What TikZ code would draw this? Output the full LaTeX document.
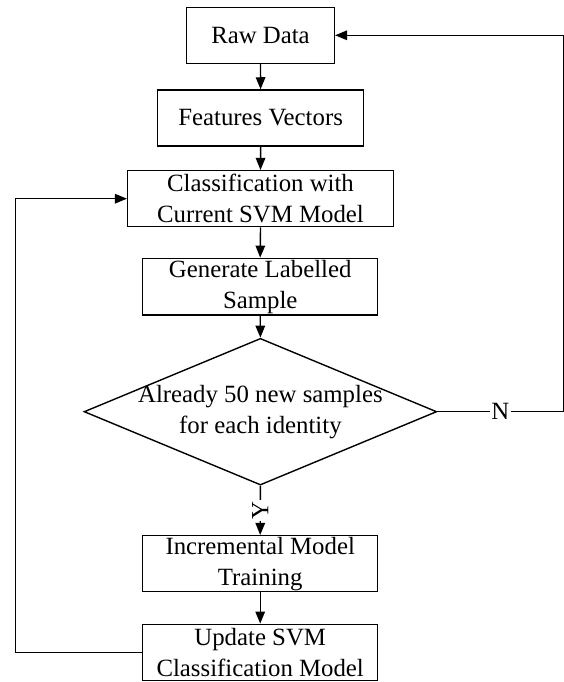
\documentclass[tikz,border=0pt]{standalone}
\usepackage{fontspec}
\setmainfont{Liberation Serif}
\usetikzlibrary{arrows.meta,shapes.geometric}

\tikzset{
  every picture/.style={x=1pt,y=-1pt},
  txt/.style={font=\fontsize{24.8}{31}\selectfont, align=center},
  procbox/.style={draw, rectangle, line width=1.5pt, inner sep=0pt, txt},
  decision/.style={draw, diamond, line width=1.4pt, inner sep=0pt, aspect=2.4},
  link/.style={line width=1.4pt, -{Triangle[length=12pt,width=9.5pt]}},
  plainlink/.style={line width=1.4pt},
  lab/.style={fill=white, inner sep=1.8pt, txt}
}

\begin{document}
\begin{tikzpicture}
  \fill[white] (0,0) rectangle (564,682);
  \useasboundingbox (0,0) rectangle (564,682);

  % process steps
  \node[procbox, minimum width=147.6pt, minimum height=56pt] (raw) at (260.5,35.3) {Raw Data};
  \node[procbox, minimum width=206pt, minimum height=56pt] (feat) at (260.6,118) {Features Vectors};
  \node[procbox, minimum width=265.6pt, minimum height=56pt] (cls) at (260.5,198.7) {Classification with\\Current SVM Model};
  \node[procbox, minimum width=235pt, minimum height=56.5pt] (gen) at (260.2,286.6) {Generate Labelled\\Sample};

  % decision
  \node[decision, minimum width=352.7pt, minimum height=146.7pt] (dia) at (260.4,411.7) {};
  \node[txt] (diatext) at (dia.center) {Already 50 new samples\\for each identity};

  \node[procbox, minimum width=235pt, minimum height=56pt] (inc) at (260.2,563.7) {Incremental Model\\Training};
  \node[procbox, minimum width=235pt, minimum height=56.3pt] (upd) at (260.2,652.5) {Update SVM\\Classification Model};

  % turning points of the feedback loops
  \coordinate (rc) at (563.2,411.7);
  \coordinate (lc) at (15.7,652.5);

  % main flow
  \draw[link] (raw.south) -- (feat.north);
  \draw[link] (feat.south) -- (cls.north);
  \draw[link] (cls.south) -- (gen.north);
  \draw[link] (gen.south) -- (dia.north);
  \draw[link] (dia.south) -- node[lab, rotate=90] {Y} (inc.north);
  \draw[link] (inc.south) -- (upd.north);

  % loops
  \draw[plainlink] (dia.east) -- node[lab] {N} (rc);
  \draw[link] (rc) |- (raw.east);
  \draw[link] (upd.west) -- (lc) |- (cls.west);
\end{tikzpicture}
\end{document}
